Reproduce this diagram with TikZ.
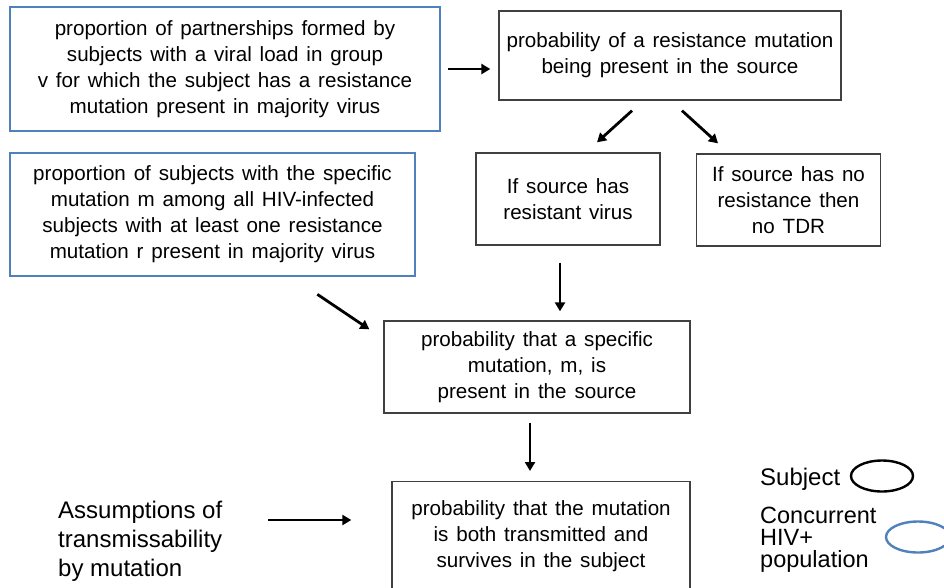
\documentclass[tikz,border=0pt]{standalone}
\usepackage{fontspec}
\setmainfont{Liberation Sans}
\usepackage{xcolor}
\usetikzlibrary{arrows.meta,shapes.geometric}
\definecolor{boxblue}{RGB}{79,129,189}
\newcommand{\boxfont}{\fontsize{20.6}{26}\selectfont\spaceskip=0.38em plus 0.1em\relax}

\begin{document}
\begin{tikzpicture}[x=1pt,y=-1pt,
    box/.style={draw=black!75,line width=1.3pt,rectangle,align=center,inner sep=0pt,
      font=\boxfont},
    bluebox/.style={box,draw=boxblue,line width=2.6pt},
    arr/.style={-{Triangle[length=9pt,width=10pt]},line width=2.8pt},
    legtext/.style={align=left,inner sep=0pt,font=\fontsize{23.5}{22}\selectfont}]
\clip (0,0) rectangle (944,587);
\fill[white] (0,0) rectangle (944,587);
    \node[bluebox,minimum width=430,minimum height=124] (partner) at (225,69)
      {proportion of partnerships formed by\\subjects with a viral load in group\\v for which the subject has a resistance\\mutation present in majority virus};
    \node[box,minimum width=342,minimum height=89] (probres) at (670,55.5)
      {probability of a resistance mutation\\being present in the source};
    \node[bluebox,minimum width=405,minimum height=123] (propmut) at (212.5,214.5)
      {proportion of subjects with the specific\\mutation m among all HIV-infected\\subjects with at least one resistance\\mutation r present in majority virus};
    \node[box,minimum width=184,minimum height=92] (resist) at (568,199)
      {If source has\\resistant virus};
    \node[box,minimum width=184,minimum height=92] (nores) at (788.5,200)
      {If source has no\\resistance then\\no TDR};
    \node[box,minimum width=306,minimum height=92] (probmut) at (537,367)
      {probability that a specific\\mutation, m, is\\present in the source};
    \node[box,minimum width=298,minimum height=110,anchor=north] (transmit) at (541,481)
      {probability that the mutation\\is both transmitted and\\survives in the subject};
    \node[legtext,anchor=west,font=\fontsize{24}{29}\selectfont] (assume) at (58,541)
      {Assumptions of\\transmissability\\by mutation};
    \node[legtext,anchor=west,font=\fontsize{24}{29}\selectfont] (subj) at (760,479) {Subject};
    \node[draw,ellipse,line width=2.4pt,minimum width=62,minimum height=31,inner sep=0pt] (subjell) at (882,476) {};
    \node[legtext,anchor=north west] (concur) at (760,507) {Concurrent\\HIV+\\population};
    \node[draw=boxblue,ellipse,line width=2.4pt,minimum width=64,minimum height=31,inner sep=0pt] (concell) at (918,537) {};
    \draw[arr] ([xshift=7pt]partner.east) -- ([xshift=-8pt]probres.west |- partner.east);
    \draw[arr] ([xshift=-38pt,yshift=-10pt]probres.south) -- ([xshift=29pt,yshift=10pt]resist.north);
    \draw[arr] ([xshift=12pt,yshift=-10pt]probres.south) -- ([xshift=-70.5pt,yshift=10pt]nores.north);
    \draw[arr] ([xshift=-8pt,yshift=-17pt]resist.south) -- ([xshift=23pt,yshift=9pt]probmut.north);
    \draw[arr] ([xshift=-99pt,yshift=-17pt]propmut.south east) -- ([xshift=-14pt,yshift=-9pt]probmut.north west);
    \draw[arr] ([xshift=-7pt,yshift=-9pt]probmut.south) -- ([xshift=-11pt,yshift=10pt]transmit.north);
    \draw[arr] ([xshift=46pt,yshift=21pt]assume.east) -- ([xshift=-40pt,yshift=-39pt]transmit.north west);
\end{tikzpicture}
\end{document}
